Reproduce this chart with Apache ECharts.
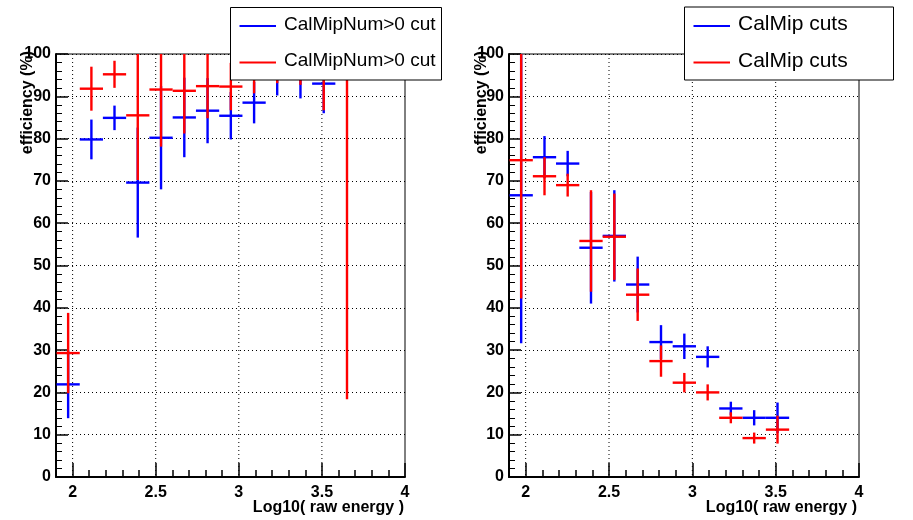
<!DOCTYPE html>
<html>
<head>
<meta charset="utf-8">
<script src="https://cdn.jsdelivr.net/npm/echarts@6/dist/echarts.min.js"></script>
<style>
  html, body { margin: 0; padding: 0; background: #fff; }
  #chart { width: 913px; height: 520px; }
</style>
</head>
<body>
<div id="chart"></div>
<script>
// bin centres in log10(raw energy), bin width ~0.14
const binCenters = [1.973, 2.113, 2.252, 2.392, 2.532, 2.672, 2.812, 2.952, 3.092, 3.231, 3.371, 3.511, 3.651];
const binHalfWidth = 0.0699;

// left pad: CalMipNum>0 cut
const leftBlueEff = [21.9, 79.8, 84.9, 69.6, 80.2, 85.0, 86.6, 85.4, 88.5, 95.0, 95.0, 93.0];
const leftBlueErr = [8.0, 4.7, 2.9, 13.0, 12.2, 9.4, 7.7, 5.6, 4.9, 4.8, 5.5, 7.0];
const leftRedEff = [29.3, 91.8, 95.2, 85.5, 91.6, 91.3, 92.4, 92.3, 96.0, 97.0, 97.0, 95.0, 100.0];
const leftRedErr = [9.5, 5.2, 3.2, 15.3, 13.5, 10.1, 7.6, 5.6, 5.3, 3.9, 4.3, 8.3, 81.6];

// right pad: CalMip cuts
const rightBlueEff = [66.6, 75.6, 74.1, 54.2, 57.0, 45.5, 31.9, 30.9, 28.4, 16.2, 14.0, 14.0];
const rightBlueErr = [35.0, 5.0, 3.0, 13.2, 10.8, 6.6, 4.0, 3.0, 2.5, 1.6, 1.8, 3.6];
const rightRedEff = [74.9, 71.1, 69.0, 55.8, 56.8, 43.1, 27.4, 22.3, 20.0, 14.0, 9.2, 11.2];
const rightRedErr = [32.7, 4.5, 2.7, 12.0, 10.2, 6.2, 3.7, 2.3, 1.9, 1.3, 1.3, 3.3];

const xMajorTicks = [2, 2.5, 3, 3.5, 4];
const xGridLines = [2, 2.5, 3, 3.5];

const leftLegend = ['CalMipNum>0 cut', 'CalMipNum>0 cut'];
const rightLegend = ['CalMip cuts', 'CalMip cuts'];

const FONT = 'Liberation Sans, Arial, Helvetica, sans-serif';

const chart = echarts.init(document.getElementById('chart'));

function toData(eff, err) {
  return eff.map((v, i) => [binCenters[i], v, err[i]]);
}

// draws one histogram point as a cross: bin width + error bar
function crossItem(color) {
  return function (params, api) {
    const x = api.value(0), y = api.value(1), e = api.value(2);
    const cs = params.coordSys;
    const clampY = v => Math.max(cs.y, Math.min(cs.y + cs.height, v));
    const l = api.coord([x - binHalfWidth, y]);
    const r = api.coord([x + binHalfWidth, y]);
    const t = api.coord([x, y + e]);
    const b = api.coord([x, y - e]);
    const style = { stroke: color, lineWidth: 2.4 };
    return {
      type: 'group',
      children: [
        { type: 'line', shape: { x1: t[0], y1: clampY(t[1]), x2: b[0], y2: clampY(b[1]) }, style },
        { type: 'line', shape: { x1: l[0], y1: l[1], x2: r[0], y2: r[1] }, style }
      ]
    };
  };
}

function gridLineItem(params, api) {
  const cs = params.coordSys;
  const p = api.coord([api.value(0), 0]);
  return {
    type: 'line',
    shape: { x1: p[0], y1: cs.y, x2: p[0], y2: cs.y + cs.height },
    style: { stroke: '#000', lineWidth: 1, lineDash: [1, 3] }
  };
}

const labelStyle = { color: '#000', fontFamily: FONT, fontWeight: 'bold', fontSize: 16 };

function mainX(gridIndex) {
  return {
    type: 'value', gridIndex, min: 1.9, max: 4, position: 'bottom',
    axisLine: { show: true, onZero: false, lineStyle: { color: '#000', width: 2 } },
    axisTick: { show: true, inside: true, length: 14, customValues: xMajorTicks, lineStyle: { color: '#000', width: 1.5 } },
    axisLabel: Object.assign({ customValues: xMajorTicks, margin: 8, formatter: v => String(v) }, labelStyle),
    splitLine: { show: false }
  };
}

function minorX(gridIndex) {
  return {
    type: 'value', gridIndex, min: 1.9, max: 4, interval: 0.1, position: 'bottom',
    axisLine: { show: false },
    axisTick: { show: true, inside: true, length: 7, lineStyle: { color: '#000', width: 1.5 } },
    axisLabel: { show: false },
    splitLine: { show: false }
  };
}

function mainY(gridIndex) {
  return {
    type: 'value', gridIndex, min: 0, max: 100, interval: 10,
    axisLine: { show: true, lineStyle: { color: '#000', width: 2 } },
    axisTick: { show: true, inside: true, length: 12, lineStyle: { color: '#000', width: 1.5 } },
    minorTick: { show: true, splitNumber: 5, length: 6, lineStyle: { color: '#000', width: 1 } },
    axisLabel: Object.assign({ margin: 5 }, labelStyle),
    splitLine: { show: true, lineStyle: { color: '#000', width: 1, type: [1, 3] } }
  };
}

function legendBox(x, y, w, h, names, fontSize) {
  const colors = ['#0000ff', '#ff0000'];
  const rows = [26, 62.5];
  const els = [
    { type: 'rect', z: 100, shape: { x: x, y: y, width: w, height: h }, style: { fill: '#fff', stroke: '#000', lineWidth: 1 } }
  ];
  names.forEach((n, i) => {
    els.push({ type: 'line', z: 101, shape: { x1: x + 9, y1: rows[i], x2: x + 45.5, y2: rows[i] }, style: { stroke: colors[i], lineWidth: 2 } });
    els.push({ type: 'text', z: 101, x: x + 53.5, y: rows[i] - 1.5, style: { text: n, fill: '#000', font: fontSize + 'px ' + FONT, verticalAlign: 'middle' } });
  });
  return els;
}

function axisTitles(yTitleX, xTitleRight) {
  return [
    { type: 'text', z: 50, x: yTitleX, y: 51, rotation: Math.PI / 2,
      style: { text: 'efficiency (%)', fill: '#000', font: 'bold 16px ' + FONT, align: 'right', verticalAlign: 'middle' } },
    { type: 'text', z: 50, x: xTitleRight, y: 508,
      style: { text: 'Log10( raw energy )', fill: '#000', font: 'bold 16px ' + FONT, align: 'right', verticalAlign: 'middle' } }
  ];
}

const option = {
  animation: false,
  backgroundColor: '#fff',
  grid: [
    { left: 56, top: 54, width: 349, height: 423, show: true, borderColor: '#000', borderWidth: 1 },
    { left: 509, top: 54, width: 350, height: 423, show: true, borderColor: '#000', borderWidth: 1 }
  ],
  xAxis: [mainX(0), minorX(0), mainX(1), minorX(1)],
  yAxis: [mainY(0), mainY(1)],
  series: [
    { type: 'custom', name: 'gridL', xAxisIndex: 0, yAxisIndex: 0, z: 1, silent: true, renderItem: gridLineItem, data: xGridLines.map(v => [v]) },
    { type: 'custom', name: 'gridR', xAxisIndex: 2, yAxisIndex: 1, z: 1, silent: true, renderItem: gridLineItem, data: xGridLines.map(v => [v]) },
    { type: 'custom', name: leftLegend[0], xAxisIndex: 0, yAxisIndex: 0, z: 2, renderItem: crossItem('#0000ff'), data: toData(leftBlueEff, leftBlueErr) },
    { type: 'custom', name: leftLegend[1], xAxisIndex: 0, yAxisIndex: 0, z: 3, renderItem: crossItem('#ff0000'), data: toData(leftRedEff, leftRedErr) },
    { type: 'custom', name: rightLegend[0], xAxisIndex: 2, yAxisIndex: 1, z: 2, renderItem: crossItem('#0000ff'), data: toData(rightBlueEff, rightBlueErr) },
    { type: 'custom', name: rightLegend[1], xAxisIndex: 2, yAxisIndex: 1, z: 3, renderItem: crossItem('#ff0000'), data: toData(rightRedEff, rightRedErr) }
  ],
  graphic: [
    ...axisTitles(27.5, 404),
    ...axisTitles(482, 857),
    ...legendBox(230.5, 7.5, 211, 72.5, leftLegend, 19),
    ...legendBox(684.5, 7, 209, 73, rightLegend, 21)
  ]
};

chart.setOption(option);
window.addEventListener('resize', () => chart.resize());
</script>
</body>
</html>
